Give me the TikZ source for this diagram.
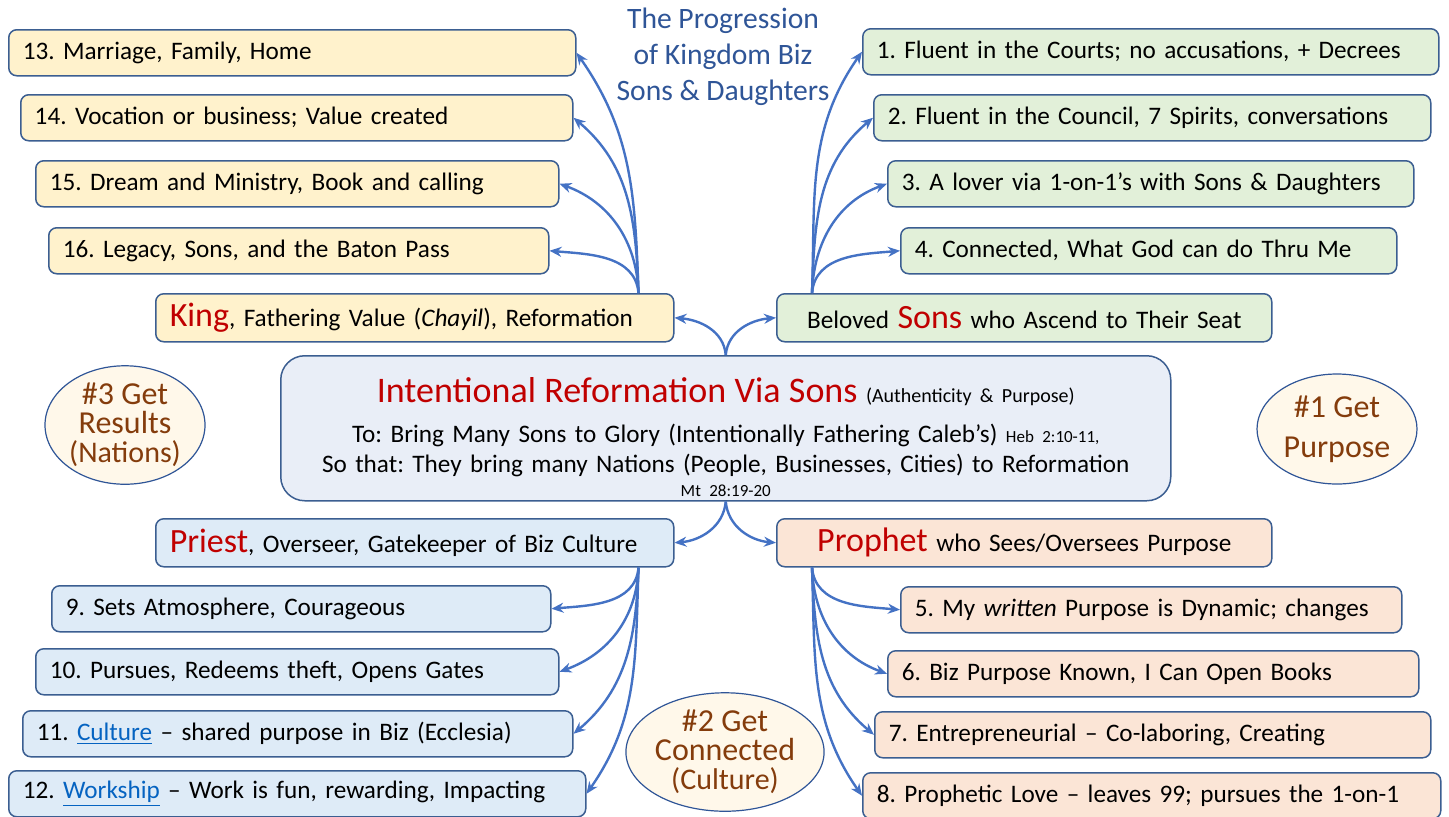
\documentclass[tikz,border=0pt]{standalone}
\usepackage{fontspec}
\setmainfont{Carlito}
\usetikzlibrary{arrows.meta,calc,shapes.geometric}
\frenchspacing

\definecolor{BoxLine}{HTML}{3B5E91}
\definecolor{ArrowBlue}{HTML}{4472C4}
\definecolor{TitleBlue}{HTML}{2F5597}
\definecolor{YellowFill}{HTML}{FFF2CC}
\definecolor{GreenFill}{HTML}{E2F0D9}
\definecolor{BlueFill}{HTML}{DEEBF7}
\definecolor{OrangeFill}{HTML}{FBE5D6}
\definecolor{CenterFill}{HTML}{E9EEF7}
\definecolor{GoalFill}{HTML}{FFF8EA}
\definecolor{GoalBrown}{HTML}{843C0C}
\definecolor{HandRed}{HTML}{C00000}
\definecolor{LinkBlue}{HTML}{0563C1}

\newcommand{\HandText}[1]{{\color{HandRed}\fontsize{17}{17}\selectfont #1}}
\newcommand{\LinkText}[1]{{\color{LinkBlue}\underline{#1}}}

\begin{document}
\begin{tikzpicture}[x=0.5pt,y=-0.5pt]
        \tikzset{
            BoxStyle/.style = {
                draw = BoxLine,
                line width = 0.75pt,
                rounded corners = 4pt,
                anchor = north west,
                inner xsep = 7pt,
                inner ysep = 0pt,
                minimum height = 23pt,
                align = left,
                font = \fontsize{12.6}{15}\selectfont},
            BoxW/.style = {
                minimum width = #1*0.5pt,
                text width = #1*0.5pt-14pt},
            GoalStyle/.style = {
                draw = TitleBlue,
                line width = 0.6pt,
                fill = GoalFill,
                shape = ellipse,
                inner sep = 0pt,
                align = center,
                text = GoalBrown,
                font = \fontsize{16}{14.5}\selectfont},
            ArrowStyle/.style = {
                draw = ArrowBlue,
                line width = 1.2pt,
                -{Stealth[length=6pt,width=5pt]}}
                }
    \useasboundingbox (0,0) rectangle (1449,816);
    % title
    \node[align = center, text = TitleBlue,
        font = \fontsize{14.8}{18}\selectfont] (Title) at (723,57)
        {The Progression\\of Kingdom Biz\\Sons \& Daughters};
    % upper left, yellow
    \node[BoxStyle, BoxW = 567, fill = YellowFill] (B13) at (8,29)
        {13. Marriage, Family, Home};
    \node[BoxStyle, BoxW = 552, fill = YellowFill] (B14) at (20,94)
        {14. Vocation or business; Value created};
    \node[BoxStyle, BoxW = 523, fill = YellowFill] (B15) at (35,160)
        {15. Dream and Ministry, Book and calling};
    \node[BoxStyle, BoxW = 500, fill = YellowFill] (B16) at (48,227)
        {16. Legacy, Sons, and the Baton Pass};
    \node[BoxStyle, BoxW = 518, fill = YellowFill, minimum height = 24pt] (King) at (155,293)
        {\HandText{King}, Fathering Value (\textit{Chayil}), Reformation};
    % upper right, green
    \node[BoxStyle, BoxW = 576, fill = GreenFill] (B1) at (862,28)
        {1. Fluent in the Courts; no accusations, + Decrees};
    \node[BoxStyle, BoxW = 557, fill = GreenFill] (B2) at (873,94)
        {2. Fluent in the Council, 7 Spirits, conversations};
    \node[BoxStyle, BoxW = 526, fill = GreenFill] (B3) at (887,160)
        {3. A lover via 1-on-1's with Sons \& Daughters};
    \node[BoxStyle, BoxW = 496, fill = GreenFill] (B4) at (900,227)
        {4. Connected, What God can do Thru Me};
    \node[BoxStyle, BoxW = 495, fill = GreenFill, minimum height = 24pt, align = center] (Sons) at (776,293)
        {Beloved \HandText{Sons} who Ascend to Their Seat};
    % center
    \node[BoxStyle, BoxW = 890, fill = CenterFill, minimum height = 72.5pt,
        rounded corners = 12pt, align = center,
        font = \fontsize{12.6}{15}\selectfont] (Center) at (280,355)
        {\rule{0pt}{21pt}\HandText{\fontsize{18}{18}\selectfont Intentional Reformation Via Sons}
         {\fontsize{10}{11}\selectfont (Authenticity \& Purpose)}\\[5pt]
         To: Bring Many Sons to Glory (Intentionally Fathering Caleb’s)
         {\fontsize{8.5}{9}\selectfont Heb 2:10-11,}\\
         So that: They bring many Nations (People, Businesses, Cities) to Reformation\\[-3pt]
         {\fontsize{8.5}{9}\selectfont Mt 28:19-20}};
    % lower left, blue
    \node[BoxStyle, BoxW = 518, fill = BlueFill, minimum height = 24pt] (Priest) at (155,518)
        {\HandText{Priest}, Overseer, Gatekeeper of Biz Culture};
    \node[BoxStyle, BoxW = 499, fill = BlueFill] (B9) at (51,585)
        {9. Sets Atmosphere, Courageous};
    \node[BoxStyle, BoxW = 523, fill = BlueFill] (B10) at (35,648)
        {10. Pursues, Redeems theft, Opens Gates};
    \node[BoxStyle, BoxW = 550, fill = BlueFill] (B11) at (22,710)
        {11. \LinkText{Culture} -- shared purpose in Biz (Ecclesia)};
    \node[BoxStyle, BoxW = 577, fill = BlueFill] (B12) at (8,770)
        {12. \LinkText{Workship} -- Work is fun, rewarding, Impacting};
    % lower right, orange
    \node[BoxStyle, BoxW = 495, fill = OrangeFill, minimum height = 24pt, align = center] (Prophet) at (776,518)
        {\HandText{Prophet} who Sees/Oversees Purpose};
    \node[BoxStyle, BoxW = 501, fill = OrangeFill] (B5) at (900,586)
        {5. My \textit{written} Purpose is Dynamic; changes};
    \node[BoxStyle, BoxW = 531, fill = OrangeFill] (B6) at (887,650)
        {6. Biz Purpose Known, I Can Open Books};
    \node[BoxStyle, BoxW = 556, fill = OrangeFill] (B7) at (874,711)
        {7. Entrepreneurial -- Co-laboring, Creating};
    \node[BoxStyle, BoxW = 578, fill = OrangeFill] (B8) at (862,772)
        {8. Prophetic Love -- leaves 99; pursues the 1-on-1};
    % goals
    \node[GoalStyle, minimum width = 80pt, minimum height = 50pt] (Goal3) at (125,425)
        {\#3 Get\\Results\\{\fontsize{15}{14}\selectfont (Nations)}};
    \node[GoalStyle, minimum width = 80pt, minimum height = 55pt,
        font = \fontsize{16}{20}\selectfont] (Goal1) at (1337,429)
        {\#1 Get\\Purpose};
    \node[GoalStyle, minimum width = 82pt, minimum height = 53pt] (Goal2) at (725,752)
        {\#2 Get\\Connected\\{\fontsize{15}{14}\selectfont (Culture)}};
    % connectors
    \coordinate (KingUp) at ($(King.north east)+(-36,0)$);
    \coordinate (SonsUp) at ($(Sons.north west)+(36,0)$);
    \coordinate (PriestDown) at ($(Priest.south east)+(-36,0)$);
    \coordinate (ProphetDown) at ($(Prophet.south west)+(36,0)$);
    \draw[ArrowStyle] (Center.north) to[out=95,in=-5] (King.east);
    \draw[ArrowStyle] (Center.north) to[out=85,in=185] (Sons.west);
    \draw[ArrowStyle] (Center.south) to[out=-95,in=5] (Priest.east);
    \draw[ArrowStyle] (Center.south) to[out=-85,in=175] (Prophet.west);
    \draw[ArrowStyle] (KingUp) to[out=92,in=-55] (B13.east);
    \draw[ArrowStyle] (KingUp) to[out=92,in=-40] (B14.east);
    \draw[ArrowStyle] (KingUp) to[out=92,in=-20] (B15.east);
    \draw[ArrowStyle] (KingUp) to[out=95,in=-5] (B16.east);
    \draw[ArrowStyle] (SonsUp) to[out=88,in=235] (B1.west);
    \draw[ArrowStyle] (SonsUp) to[out=88,in=220] (B2.west);
    \draw[ArrowStyle] (SonsUp) to[out=88,in=200] (B3.west);
    \draw[ArrowStyle] (SonsUp) to[out=85,in=185] (B4.west);
    \draw[ArrowStyle] (PriestDown) to[out=-95,in=5] (B9.east);
    \draw[ArrowStyle] (PriestDown) to[out=-92,in=20] (B10.east);
    \draw[ArrowStyle] (PriestDown) to[out=-92,in=40] (B11.east);
    \draw[ArrowStyle] (PriestDown) to[out=-92,in=55] (B12.east);
    \draw[ArrowStyle] (ProphetDown) to[out=-85,in=175] (B5.west);
    \draw[ArrowStyle] (ProphetDown) to[out=-88,in=160] (B6.west);
    \draw[ArrowStyle] (ProphetDown) to[out=-88,in=140] (B7.west);
    \draw[ArrowStyle] (ProphetDown) to[out=-88,in=125] (B8.west);
\end{tikzpicture}
\end{document}
